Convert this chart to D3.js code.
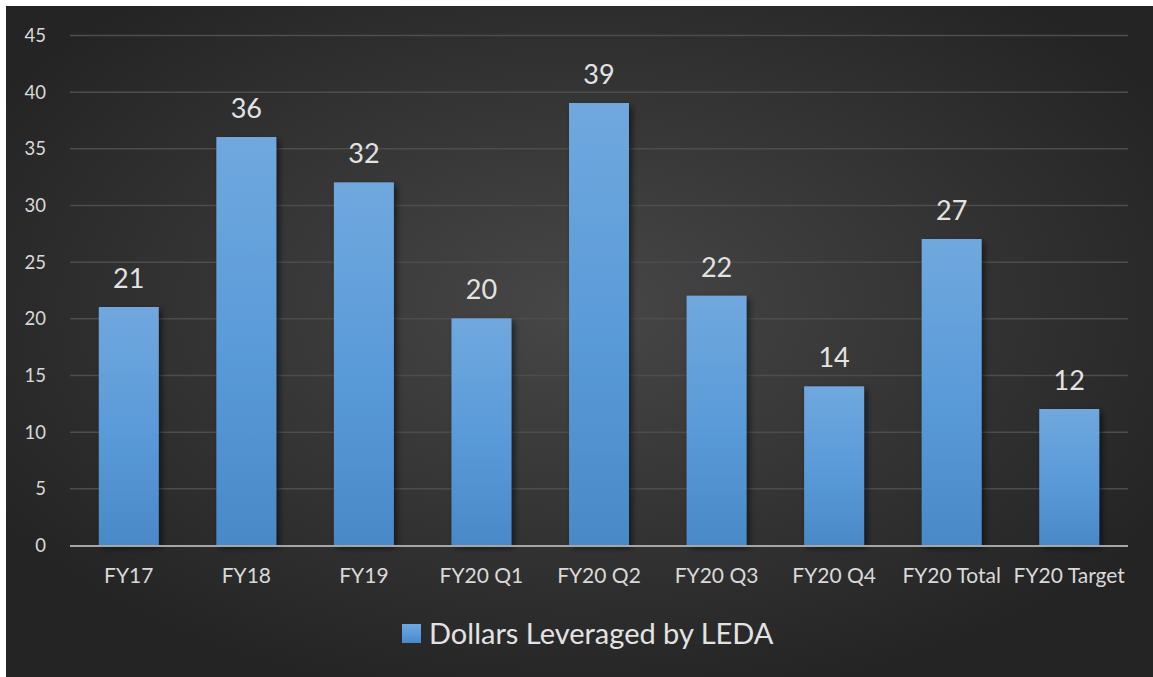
<!DOCTYPE html>
<html>
<head>
<meta charset="utf-8">
<script src="https://cdn.jsdelivr.net/npm/d3@7"></script>
<style>
  html, body { margin: 0; padding: 0; background: #ffffff; }
  svg { display: block; }
</style>
</head>
<body>
<svg id="chart" width="1153" height="677"></svg>
<script>
// Chart data
const categories = ["FY17", "FY18", "FY19", "FY20 Q1", "FY20 Q2", "FY20 Q3", "FY20 Q4", "FY20 Total", "FY20 Target"];
const values = [21, 36, 32, 20, 39, 22, 14, 27, 12];
const yTicks = [0, 5, 10, 15, 20, 25, 30, 35, 40, 45];
const seriesName = "Dollars Leveraged by LEDA";

const svg = d3.select("#chart");
const W = 1153, H = 677;
const font = "Lato, 'Open Sans', sans-serif";

const defs = svg.append("defs");

// Dark radial background
const bg = defs.append("radialGradient").attr("id", "bg")
  .attr("cx", "50%").attr("cy", "45%").attr("r", "60%");
bg.append("stop").attr("offset", "0%").attr("stop-color", "#474747");
bg.append("stop").attr("offset", "100%").attr("stop-color", "#242424");

// Bar fill gradient
const barGrad = defs.append("linearGradient").attr("id", "barGrad")
  .attr("x1", 0).attr("y1", 0).attr("x2", 0).attr("y2", 1);
barGrad.append("stop").attr("offset", "0%").attr("stop-color", "#70a8de");
barGrad.append("stop").attr("offset", "50%").attr("stop-color", "#5b9bd9");
barGrad.append("stop").attr("offset", "100%").attr("stop-color", "#4a89c8");

// Soft shadow behind bars
const shadow = defs.append("filter").attr("id", "shadow")
  .attr("x", "-30%").attr("y", "-10%").attr("width", "160%").attr("height", "130%");
shadow.append("feDropShadow").attr("dx", 3).attr("dy", 3).attr("stdDeviation", 3)
  .attr("flood-color", "#000").attr("flood-opacity", 0.55);

svg.append("rect").attr("x", 6).attr("y", 6).attr("width", W - 6).attr("height", H - 6)
  .attr("fill", "url(#bg)");

const plot = { left: 70, right: 1128, top: 35, bottom: 545 };

const x = d3.scaleBand().domain(categories)
  .range([plot.left, plot.right]).paddingInner(0.49).paddingOuter(0.245);
const y = d3.scaleLinear().domain([0, 45]).range([plot.bottom, plot.top]);

// Horizontal gridlines
svg.append("g").selectAll("line").data(yTicks.filter(d => d > 0)).join("line")
  .attr("x1", plot.left).attr("x2", plot.right)
  .attr("y1", d => y(d) + 0.5).attr("y2", d => y(d) + 0.5)
  .attr("stroke", "#4d4d4d").attr("stroke-width", 1.5);

// Y axis labels
const yAxis = d3.axisLeft(y).tickValues(yTicks).tickSize(0).tickPadding(0);
const yg = svg.append("g").attr("transform", `translate(${plot.left - 24},0)`).call(yAxis);
yg.select(".domain").remove();
yg.selectAll("text").attr("fill", "#d9d9d9").attr("font-family", font)
  .attr("font-size", 18.5).attr("dy", "0.35em");

// Bars
svg.append("g").selectAll("rect").data(values).join("rect")
  .attr("x", (d, i) => x(categories[i]))
  .attr("y", d => y(d))
  .attr("width", x.bandwidth())
  .attr("height", d => y(0) - y(d))
  .attr("fill", "url(#barGrad)")
  .attr("filter", "url(#shadow)");

// Value labels
svg.append("g").selectAll("text").data(values).join("text")
  .attr("x", (d, i) => x(categories[i]) + x.bandwidth() / 2)
  .attr("y", d => y(d) - 19)
  .attr("text-anchor", "middle")
  .attr("fill", "#e3e3e3").attr("font-family", font).attr("font-size", 27)
  .text(d => d);

// Baseline
svg.append("line").attr("x1", plot.left).attr("x2", plot.right)
  .attr("y1", y(0) + 1).attr("y2", y(0) + 1)
  .attr("stroke", "#a6a6a6").attr("stroke-width", 2);

// X axis labels
const xAxis = d3.axisBottom(x).tickSize(0).tickPadding(0);
const xg = svg.append("g").attr("transform", `translate(0,${plot.bottom + 31})`).call(xAxis);
xg.select(".domain").remove();
xg.selectAll("text").attr("fill", "#d9d9d9").attr("font-family", font)
  .attr("font-size", 21).attr("dy", "0.35em");

// Legend
const legendItems = [seriesName];
const lg = svg.append("g").attr("transform", "translate(402,624)");
lg.selectAll("rect").data(legendItems).join("rect")
  .attr("x", 0).attr("y", 0).attr("width", 19).attr("height", 19)
  .attr("fill", "url(#barGrad)");
lg.selectAll("text").data(legendItems).join("text")
  .attr("x", 27).attr("y", 10).attr("dy", "0.35em")
  .attr("fill", "#e3e3e3").attr("font-family", font).attr("font-size", 29)
  .text(d => d);
</script>
</body>
</html>
